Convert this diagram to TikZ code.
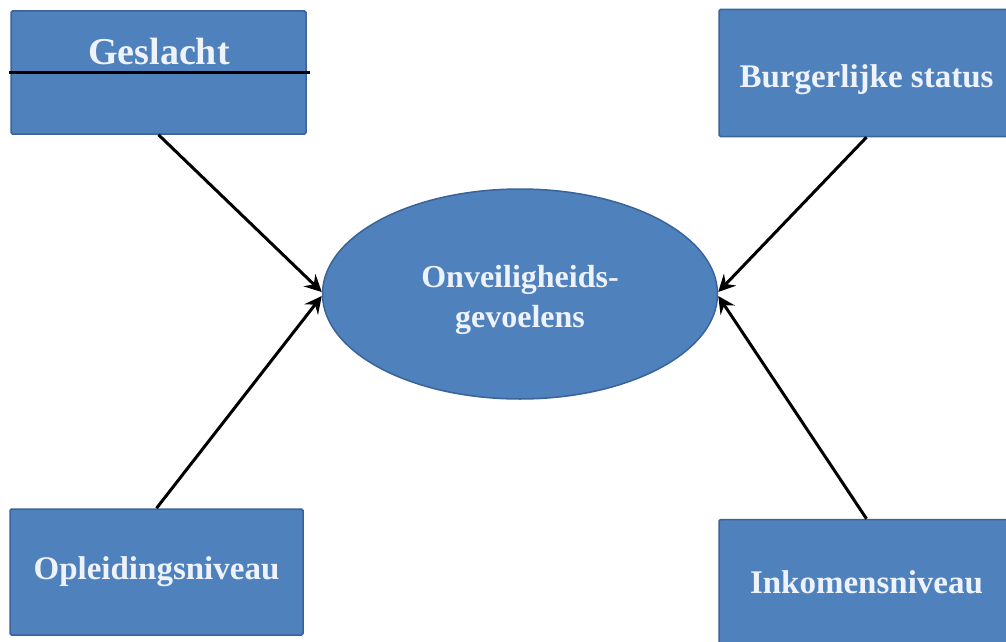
\documentclass[tikz,border=0pt]{standalone}
\usepackage{fontspec}
\setmainfont{Liberation Serif}
\usetikzlibrary{arrows.meta,shapes.geometric}
\definecolor{boxblue}{HTML}{4F81BD}
\definecolor{boxline}{HTML}{3A639A}
\definecolor{boxtext}{HTML}{EEF3FB}
\tikzset{
  factorbox/.style={draw=boxline, line width=1.5pt, fill=boxblue, rectangle,
    rounded corners=1.5pt, inner sep=0pt, text=boxtext,
    font=\bfseries\fontsize{33}{40}\selectfont},
  effect/.style={-{Stealth[length=17pt,width=17pt,inset=6pt]}, line width=3pt, black}
}
\begin{document}
\begin{tikzpicture}[x=1pt, y=1pt]
% Set the page size
\useasboundingbox (0,0) rectangle (1006,-642);
\clip (0,0) rectangle (1006,-642);

% Draw the central ellipse
\node[ellipse, draw=boxline, line width=1.5pt, fill=boxblue,
  minimum width=395pt, minimum height=210pt, inner sep=0pt] (onv) at (520, -294) {};
\node[text=boxtext, align=center, font=\bfseries\fontsize{32}{40}\selectfont]
  (onvtext) at (520, -300) {Onveiligheids-\\gevoelens};

% Draw the four boxes
\node[factorbox, minimum width=295pt, minimum height=123pt] (gesl) at (158.5, -72.5) {};
\node[text=boxtext, font=\bfseries\fontsize{38}{44}\selectfont] (gesltext) at (159, -52) {Geslacht};
\draw[line width=3pt, black] ([xshift=-1pt]gesl.west) -- ([xshift=3pt]gesl.east);
\node[factorbox, minimum width=295pt, minimum height=127pt, text height=37pt] (burg) at (866.5, -73) {Burgerlijke status};
\node[factorbox, minimum width=293pt, minimum height=126pt] (ople) at (156.5, -572) {Opleidingsniveau};
\node[factorbox, minimum width=295pt, minimum height=125pt] (inko) at (866.5, -582) {Inkomensniveau};

% Draw the arrows
\draw[effect] (gesl.south) -- ([yshift=2pt]onv.west);
\draw[effect] (ople.north) -- ([yshift=-2pt]onv.west);
\draw[effect] (burg.south) -- ([yshift=2pt]onv.east);
\draw[effect] (inko.north) -- ([yshift=-2pt]onv.east);
\end{tikzpicture}
\end{document}
